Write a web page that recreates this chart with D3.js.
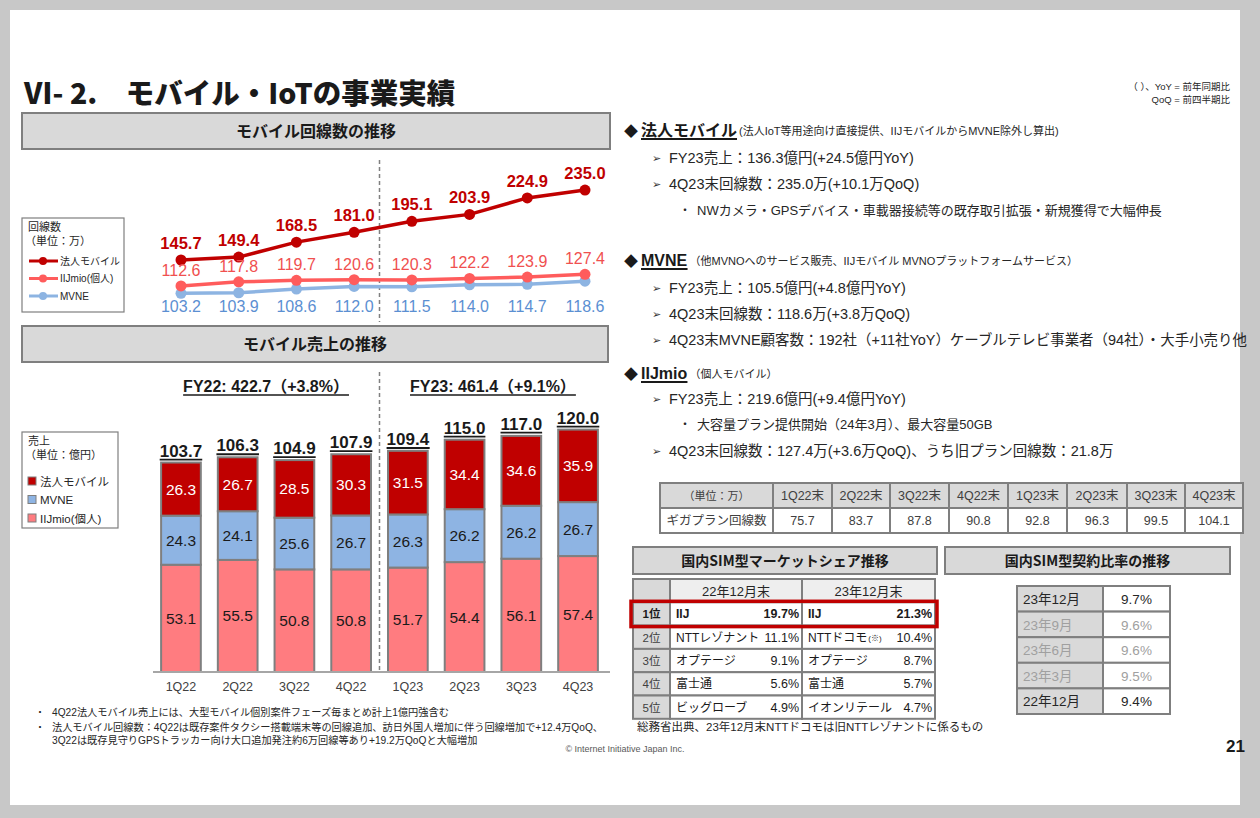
<!DOCTYPE html>
<html><head><meta charset="utf-8">
<script src="https://cdn.jsdelivr.net/npm/d3@7"></script>
<style>
body{margin:0;background:#c8c8c8}
svg{display:block}
text{font-family:"Liberation Sans","Noto Sans CJK JP",sans-serif}
</style>
</head><body>
<svg id="c" width="1260" height="818"></svg>
<script>
// ---------------- DATA ----------------
const quarters = ["1Q22","2Q22","3Q22","4Q22","1Q23","2Q23","3Q23","4Q23"];
const linesHoujin = [145.7,149.4,168.5,181.0,195.1,203.9,224.9,235.0];
const linesIIJmio = [112.6,117.8,119.7,120.6,120.3,122.2,123.9,127.4];
const linesMVNE   = [103.2,103.9,108.6,112.0,111.5,114.0,114.7,118.6];
const salesHoujin = [26.3,26.7,28.5,30.3,31.5,34.4,34.6,35.9];
const salesMVNE   = [24.3,24.1,25.6,26.7,26.3,26.2,26.2,26.7];
const salesIIJmio = [53.1,55.5,50.8,50.8,51.7,54.4,56.1,57.4];
const salesTotal  = [103.7,106.3,104.9,107.9,109.4,115.0,117.0,120.0];
const fyLabels = ["FY22: 422.7（+3.8%）","FY23: 461.4（+9.1%）"];
const seriesNames = ["法人モバイル","IIJmio(個人)","MVNE"];
const gigaHeader = ["（単位：万）","1Q22末","2Q22末","3Q22末","4Q22末","1Q23末","2Q23末","3Q23末","4Q23末"];
const gigaValues = ["ギガプラン回線数","75.7","83.7","87.8","90.8","92.8","96.3","99.5","104.1"];
const shareRanks = ["1位","2位","3位","4位","5位"];
const share22Names = ["IIJ","NTTレゾナント","オプテージ","富士通","ビッグローブ"];
const share22Pct = ["19.7%","11.1%","9.1%","5.6%","4.9%"];
const share23Names = ["IIJ","NTTドコモ","オプテージ","富士通","イオンリテール"];
const share23Pct = ["21.3%","10.4%","8.7%","5.7%","4.7%"];
const ratioLabels = ["23年12月","23年9月","23年6月","23年3月","22年12月"];
const ratioValues = ["9.7%","9.6%","9.6%","9.5%","9.4%"];

// ---------------- COLORS ----------------
const cHoujin = "#c00000", cIIJ = "#ff5c5c", cMVNE = "#8db4e2";
const cBarIIJ = "#ff7c80", cBarMVNE = "#8eb4e3";
const gray = "#d9d9d9", border = "#7f7f7f", txt = "#262626";

const svg = d3.select("#c");
svg.append("rect").attr("width",1260).attr("height",818).attr("fill","#c8c8c8");
svg.append("rect").attr("x",10).attr("y",10).attr("width",1230).attr("height",795).attr("fill","#fff");

function T(x,y,s,opts={}){
  const t = svg.append("text").attr("x",x).attr("y",y).text(s)
    .style("font-size",(opts.size||12)+"px")
    .attr("fill",opts.fill||txt)
    .attr("text-anchor",opts.anchor||"start");
  if(opts.weight) t.style("font-weight",opts.weight);
  if(opts.family) t.style("font-family",opts.family);
  return t;
}
function underline(t,color,w){
  const b = t.node().getBBox();
  svg.append("line").attr("x1",b.x).attr("x2",b.x+b.width)
    .attr("y1",+t.attr("y")+3).attr("y2",+t.attr("y")+3)
    .attr("stroke",color||txt).attr("stroke-width",w||1.6);
}
function headerBox(x,y,w,h,s,size){
  svg.append("rect").attr("x",x).attr("y",y).attr("width",w).attr("height",h)
    .attr("fill",gray).attr("stroke",border).attr("stroke-width",2);
  T(x+w/2,y+h/2+size*0.36,s,{size:size,weight:700,anchor:"middle",fill:"#1a1a1a",family:"Noto Sans CJK JP"});
}

// ---------------- TITLE ----------------
T(24,104,"Ⅵ- 2.　モバイル・IoTの事業実績",{size:28.5,weight:900,fill:"#1a1a1a",family:"Noto Sans CJK JP"});
T(1230,90,"（ ）、YoY = 前年同期比",{size:9.5,anchor:"end"});
T(1230,103,"QoQ = 前四半期比",{size:9.5,anchor:"end"});

headerBox(22,113,588,36,"モバイル回線数の推移",16);
headerBox(22,326,586,36,"モバイル売上の推移",16);

// ---------------- LINE CHART ----------------
const xl = d3.scalePoint().domain(quarters).range([181,585]);
const yl = d3.scaleLinear().domain([100,240]).range([295.8,186.1]);
const xb = d3.scaleBand().domain(quarters).range([152.6,606.4]).paddingInner(0.3).paddingOuter(0.15);
const divX = (xb("4Q22")+xb.bandwidth()+xb("1Q23"))/2;

svg.append("line").attr("x1",divX).attr("x2",divX).attr("y1",160).attr("y2",322)
  .attr("stroke","#808080").attr("stroke-width",1.5).attr("stroke-dasharray","4,3");
svg.append("line").attr("x1",divX).attr("x2",divX).attr("y1",372).attr("y2",672)
  .attr("stroke","#808080").attr("stroke-width",1.5).attr("stroke-dasharray","4,3");

const lineGen = d3.line().x((d,i)=>xl(quarters[i])).y(d=>yl(d));
const lineSeries = [
  {vals:linesMVNE,color:cMVNE},
  {vals:linesIIJmio,color:cIIJ},
  {vals:linesHoujin,color:cHoujin}
];
lineSeries.forEach(s=>{
  svg.append("path").datum(s.vals).attr("d",lineGen).attr("fill","none")
    .attr("stroke",s.color).attr("stroke-width",3.5);
  svg.selectAll(null).data(s.vals).enter().append("circle")
    .attr("cx",(d,i)=>xl(quarters[i])).attr("cy",d=>yl(d)).attr("r",5.5).attr("fill",s.color);
});
linesHoujin.forEach((v,i)=>T(xl(quarters[i]),yl(v)-11,v.toFixed(1),{size:16.5,weight:700,anchor:"middle",fill:cHoujin}));
linesIIJmio.forEach((v,i)=>T(xl(quarters[i]),yl(v)-10,v.toFixed(1),{size:16,anchor:"middle",fill:"#f0504f"}));
linesMVNE.forEach((v,i)=>T(xl(quarters[i]),yl(100)+16,v.toFixed(1),{size:16,anchor:"middle",fill:"#5b8fd2"}));

// legend (lines)
svg.append("rect").attr("x",22).attr("y",218).attr("width",102).attr("height",94)
  .attr("fill","#fff").attr("stroke",border).attr("stroke-width",1.2);
T(28,231,"回線数",{size:11});
T(25,245,"（単位：万）",{size:11});
[[cHoujin,seriesNames[0]],[cIIJ,seriesNames[1]],[cMVNE,seriesNames[2]]].forEach((d,i)=>{
  const y = 261 + i*17.5;
  svg.append("line").attr("x1",29).attr("x2",58).attr("y1",y).attr("y2",y).attr("stroke",d[0]).attr("stroke-width",3);
  svg.append("circle").attr("cx",43).attr("cy",y).attr("r",4).attr("fill",d[0]);
  T(60,y+3.5,d[1],{size:10});
});

// ---------------- BAR CHART ----------------
const yb = d3.scaleLinear().domain([0,120]).range([672,429.6]);
const barRows = quarters.map((q,i)=>({q:q,iij:salesIIJmio[i],mvne:salesMVNE[i],houjin:salesHoujin[i]}));
const stack = d3.stack().keys(["iij","mvne","houjin"])(barRows);
const barColors = {iij:cBarIIJ,mvne:cBarMVNE,houjin:cHoujin};
stack.forEach(layer=>{
  svg.selectAll(null).data(layer).enter().append("rect")
    .attr("x",d=>xb(d.data.q)).attr("width",xb.bandwidth())
    .attr("y",d=>yb(d[1])).attr("height",d=>yb(d[0])-yb(d[1]))
    .attr("fill",barColors[layer.key]).attr("stroke",border).attr("stroke-width",2);
  svg.selectAll(null).data(layer).enter().append("text")
    .attr("x",d=>xb(d.data.q)+xb.bandwidth()/2)
    .attr("y",d=>(yb(d[0])+yb(d[1]))/2+5.5)
    .attr("text-anchor","middle")
    .style("font-size","15.5px")
    .attr("fill",layer.key==="houjin"?"#fff":"#1a1a1a")
    .text(d=>d.data[layer.key].toFixed(1));
});
salesTotal.forEach((v,i)=>{
  const t = T(xb(quarters[i])+xb.bandwidth()/2,yb(v)-6,v.toFixed(1),{size:17,weight:700,anchor:"middle",fill:"#1a1a1a"});
  underline(t,"#1a1a1a",1.8);
});
const axis = svg.append("g").attr("transform","translate(0,672)")
  .call(d3.axisBottom(xb).tickSize(0).tickPadding(10));
axis.select(".domain").attr("stroke","#a6a6a6").attr("stroke-width",2).attr("d","M153,0H610");
axis.selectAll("text").style("font-size","12.5px").attr("fill","#404040")
  .style("font-family","Liberation Sans");

// FY labels
const fy22 = T((xb("1Q22")+xb("4Q22")+xb.bandwidth())/2,392,fyLabels[0],{size:16,weight:700,anchor:"middle",fill:"#1a1a1a"});
underline(fy22,"#1a1a1a",1.6);
const fy23 = T((xb("1Q23")+xb("4Q23")+xb.bandwidth())/2,392,fyLabels[1],{size:16,weight:700,anchor:"middle",fill:"#1a1a1a"});
underline(fy23,"#1a1a1a",1.6);

// legend (bars)
svg.append("rect").attr("x",22).attr("y",432).attr("width",96).attr("height",96)
  .attr("fill","#fff").attr("stroke",border).attr("stroke-width",1.2);
T(28,445,"売上",{size:11});
T(25,459,"（単位：億円）",{size:11});
[[cHoujin,"法人モバイル"],[cBarMVNE,"MVNE"],[cBarIIJ,"IIJmio(個人)"]].forEach((d,i)=>{
  const y = 481 + i*18.5;
  svg.append("rect").attr("x",28).attr("y",y-4).attr("width",8).attr("height",8)
    .attr("fill",d[0]).attr("stroke",border).attr("stroke-width",1);
  T(40,y+4.5,d[1],{size:11.5});
});

// footnotes
T(35,716,"・",{size:10});
T(52,716,"4Q22法人モバイル売上には、大型モバイル個別案件フェーズ毎まとめ計上1億円強含む",{size:10.2});
T(35,731,"・",{size:10});
T(52,731,"法人モバイル回線数：4Q22は既存案件タクシー搭載端末等の回線追加、訪日外国人増加に伴う回線増加で+12.4万QoQ、",{size:10.2});
T(52,744,"3Q22は既存見守りGPSトラッカー向け大口追加発注約6万回線等あり+19.2万QoQと大幅増加",{size:10.2});
T(625,752,"© Internet Initiative Japan Inc.",{size:9,anchor:"middle",fill:"#595959"});
T(1245,752,"21",{size:17,weight:700,anchor:"end",fill:"#1a1a1a"});

// ---------------- RIGHT TEXT ----------------
function heading(y,main,sub){
  T(624,y,"◆",{size:14,fill:"#1a1a1a"});
  const m = T(641,y,main,{size:16,weight:700,fill:"#1a1a1a"});
  underline(m,"#1a1a1a",1.8);
  const b = m.node().getBBox();
  T(b.x+b.width+2,y-1,sub,{size:11});
}
function arrowLine(y,s,size){
  T(652,y-1,"➢",{size:11,family:"DejaVu Sans",fill:"#333"});
  T(669,y,s,{size:size||14.5});
}
function dotLine(y,s){
  T(679,y,"・",{size:12});
  T(697,y,s,{size:13});
}
heading(136,"法人モバイル","(法人IoT等用途向け直接提供、IIJモバイルからMVNE除外し算出)");
arrowLine(163,"FY23売上：136.3億円(+24.5億円YoY)");
arrowLine(189,"4Q23末回線数：235.0万(+10.1万QoQ)");
dotLine(215,"NWカメラ・GPSデバイス・車載器接続等の既存取引拡張・新規獲得で大幅伸長");
heading(266,"MVNE","（他MVNOへのサービス販売、IIJモバイル MVNOプラットフォームサービス）");
arrowLine(293,"FY23売上：105.5億円(+4.8億円YoY)");
arrowLine(319,"4Q23末回線数：118.6万(+3.8万QoQ)");
const longL = T(669,345,"4Q23末MVNE顧客数：192社（+11社YoY）ケーブルテレビ事業者（94社）・大手小売り他",{size:14.5});
T(652,344,"➢",{size:11,family:"DejaVu Sans",fill:"#333"});
if(longL.node().getComputedTextLength()>578) longL.attr("textLength",578).attr("lengthAdjust","spacingAndGlyphs");
heading(379,"IIJmio","（個人モバイル）");
arrowLine(404,"FY23売上：219.6億円(+9.4億円YoY)");
dotLine(429,"大容量プラン提供開始（24年3月）、最大容量50GB");
arrowLine(456,"4Q23末回線数：127.4万(+3.6万QoQ)、うち旧プラン回線数：21.8万");

// ---------------- GIGA TABLE ----------------
const gx = [660,773,832,890,949,1008,1067,1127,1185,1243];
const gy = [483,508,533];
[gigaHeader,gigaValues].forEach((row,r)=>{
  row.forEach((s,c)=>{
    svg.append("rect").attr("x",gx[c]).attr("y",gy[r]).attr("width",gx[c+1]-gx[c]).attr("height",gy[r+1]-gy[r])
      .attr("fill",r===0?gray:"#fff").attr("stroke",border).attr("stroke-width",2);
    T((gx[c]+gx[c+1])/2,gy[r]+17,s,{size:(r===0&&c===0)?11:12.5,anchor:"middle",fill:"#404040"});
  });
});

// ---------------- MARKET SHARE ----------------
headerBox(633,547,304,27,"国内SIM型マーケットシェア推移",14);
const sx = [633,670,802,935];
const sy = d3.range(7).map(i=>579+i*23.3);
svg.append("rect").attr("x",sx[0]).attr("y",sy[0]).attr("width",sx[1]-sx[0]).attr("height",sy[1]-sy[0]).attr("fill",gray).attr("stroke",border).attr("stroke-width",2);
["22年12月末","23年12月末"].forEach((s,c)=>{
  svg.append("rect").attr("x",sx[c+1]).attr("y",sy[0]).attr("width",sx[c+2]-sx[c+1]).attr("height",sy[1]-sy[0]).attr("fill","#eeeeee").attr("stroke",border).attr("stroke-width",2);
  T((sx[c+1]+sx[c+2])/2,sy[0]+17,s,{size:13,anchor:"middle"});
});
shareRanks.forEach((rk,i)=>{
  const y0 = sy[i+1], h = sy[i+2]-sy[i+1], bold = i===0?700:400;
  svg.append("rect").attr("x",sx[0]).attr("y",y0).attr("width",sx[1]-sx[0]).attr("height",h).attr("fill",gray).attr("stroke",border).attr("stroke-width",2);
  T((sx[0]+sx[1])/2,y0+16,rk,{size:11.5,anchor:"middle",weight:bold,fill:i===0?"#1a1a1a":"#404040"});
  [[share22Names,share22Pct],[share23Names,share23Pct]].forEach((p,c)=>{
    svg.append("rect").attr("x",sx[c+1]).attr("y",y0).attr("width",sx[c+2]-sx[c+1]).attr("height",h).attr("fill","#fff").attr("stroke",border).attr("stroke-width",2);
    const nm = T(sx[c+1]+6,y0+16,p[0][i],{size:12,weight:bold,fill:"#1a1a1a"});
    if(c===1 && i===1){ const b=nm.node().getBBox(); T(b.x+b.width+1,y0+15,"(※)",{size:8}); }
    T(sx[c+2]-3,y0+16,p[1][i],{size:12.5,weight:bold,anchor:"end",fill:"#1a1a1a"});
  });
});
svg.append("rect").attr("x",631).attr("y",sy[1]-1).attr("width",306).attr("height",sy[2]-sy[1]+2)
  .attr("fill","none").attr("stroke",cHoujin).attr("stroke-width",3.5);
T(637,731,"総務省出典、23年12月末NTTドコモは旧NTTレゾナントに係るもの",{size:11.5});

// ---------------- CONTRACT RATIO ----------------
headerBox(945,547,285,27,"国内SIM型契約比率の推移",14);
const rx = [1017,1103,1170];
ratioLabels.forEach((s,i)=>{
  const y0 = 586+i*25.6, dark = (i===0||i===ratioLabels.length-1);
  svg.append("rect").attr("x",rx[0]).attr("y",y0).attr("width",rx[1]-rx[0]).attr("height",25.6).attr("fill",gray).attr("stroke",border).attr("stroke-width",2);
  svg.append("rect").attr("x",rx[1]).attr("y",y0).attr("width",rx[2]-rx[1]).attr("height",25.6).attr("fill","#fff").attr("stroke",border).attr("stroke-width",2);
  T(rx[0]+6,y0+18,s,{size:13.5,fill:dark?"#262626":"#a0a0a0"});
  T((rx[1]+rx[2])/2,y0+18,ratioValues[i],{size:13.5,anchor:"middle",fill:dark?"#262626":"#a0a0a0"});
});
</script>
</body></html>
